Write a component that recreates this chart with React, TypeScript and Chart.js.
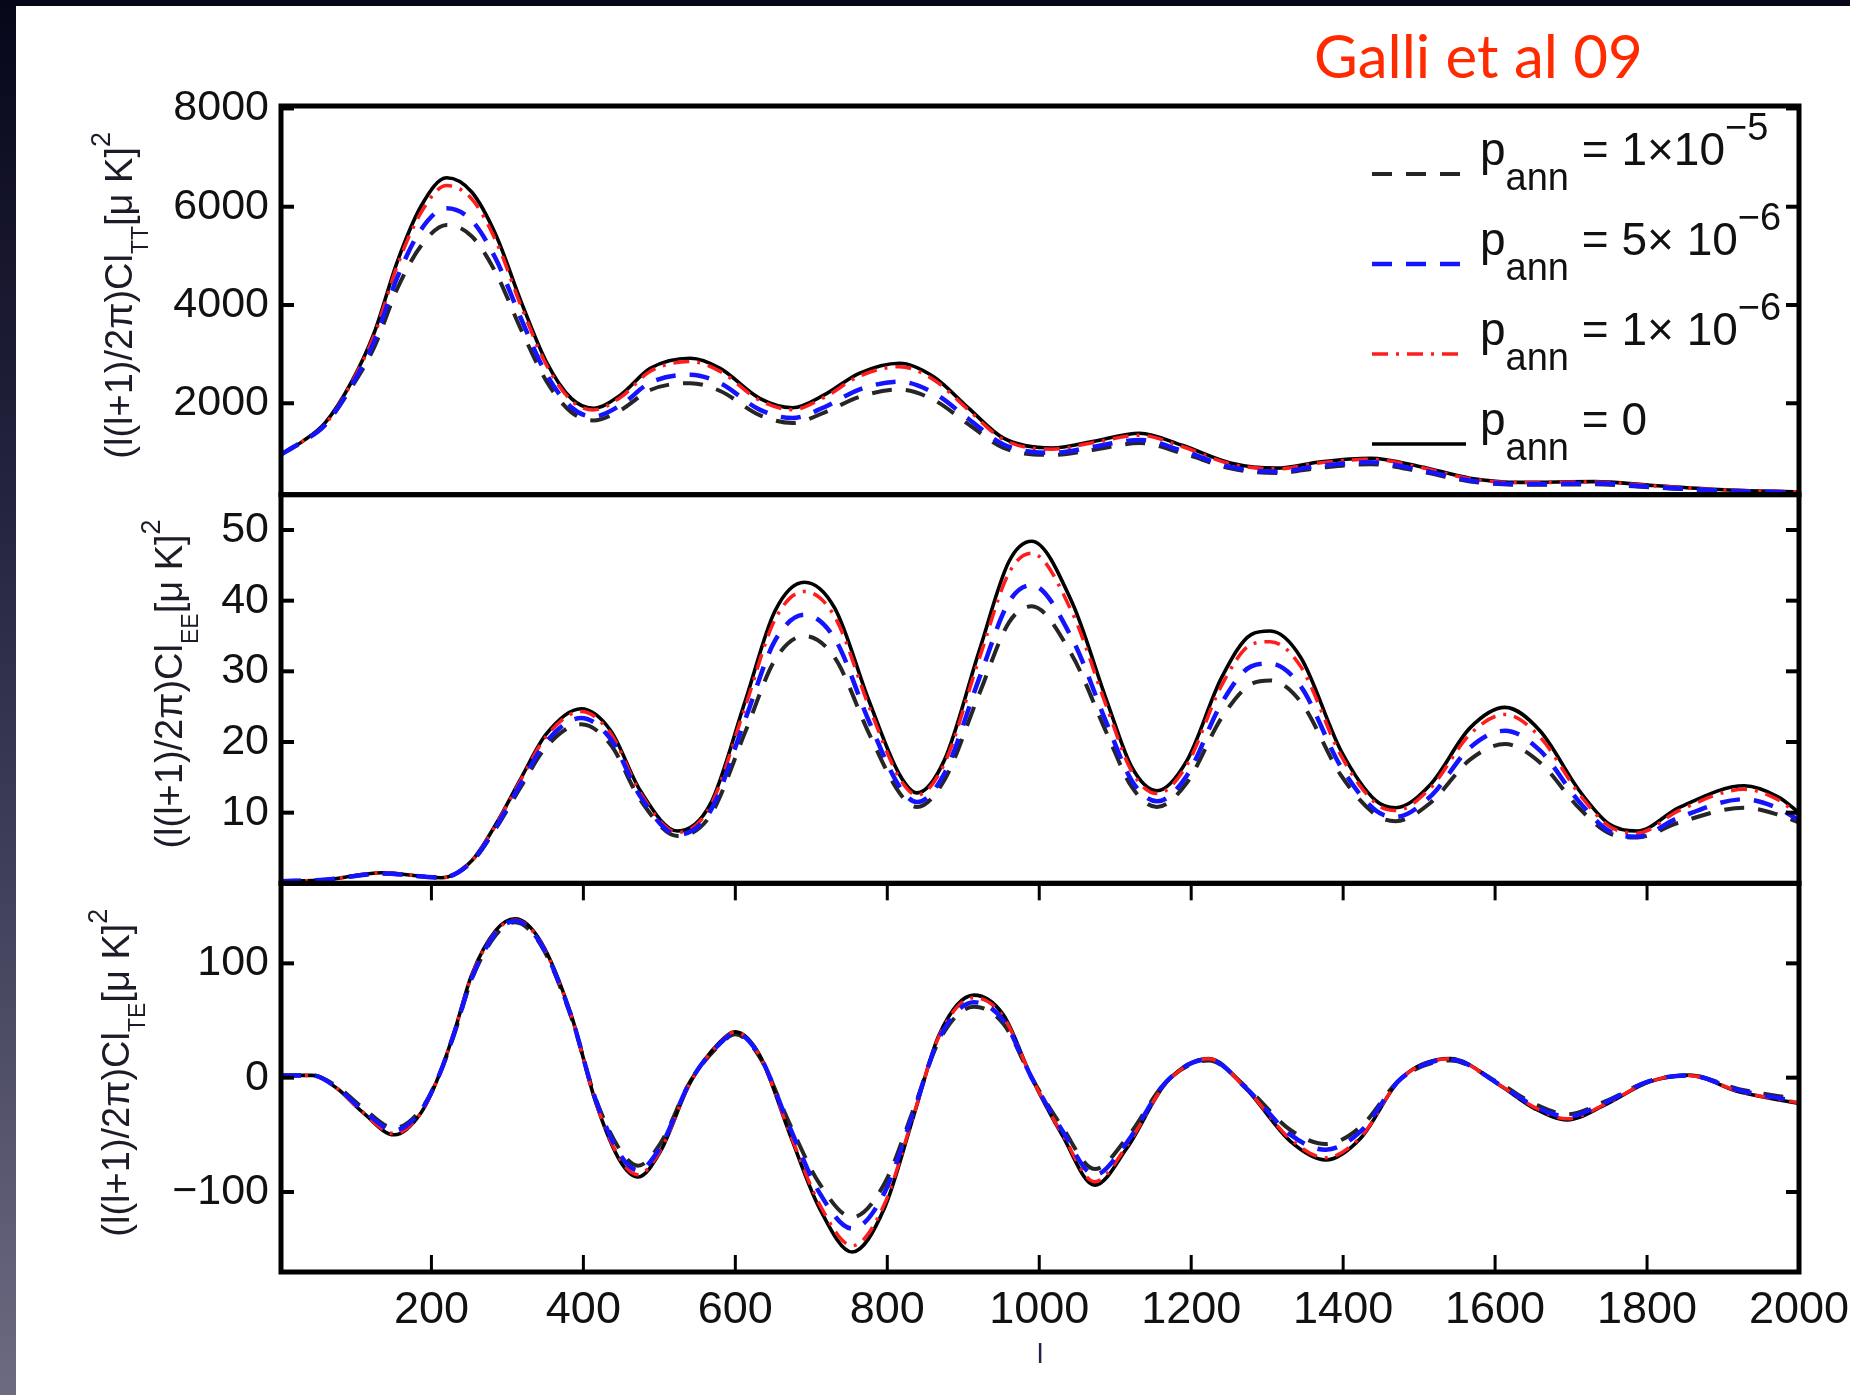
import React, { useEffect, useRef } from 'react';
import { Chart, registerables } from 'chart.js';

Chart.register(...registerables);

// ---------------- data ----------------
const X_MIN = 2;
const X_MAX = 2000;
const X_TICKS = [200, 400, 600, 800, 1000, 1200, 1400, 1600, 1800, 2000];

const TT_TICKS = [2000, 4000, 6000, 8000];
const EE_TICKS = [10, 20, 30, 40, 50];
const TE_TICKS = [-100, 0, 100];

const TT_RANGE = [140, 8050];
const EE_RANGE = [0, 55];
const TE_RANGE = [-170, 170];

const SERIES_LABELS = ['p_ann = 1×10^-5', 'p_ann = 5×10^-6', 'p_ann = 1×10^-6', 'p_ann = 0'];
const LEGEND_VALUES = ['1×10', '5× 10', '1× 10', '0'];
const LEGEND_EXPONENTS = ['\u22125', '\u22126', '\u22126', ''];

// TT spectrum
const TT_L = [2, 30, 60, 95, 125, 155, 187, 220, 253, 285, 318, 351, 384, 413, 449, 488, 541, 580, 632, 675, 717, 763, 816, 861, 907, 953, 1017, 1070, 1132, 1187, 1253, 1312, 1371, 1436, 1502, 1567, 1633, 1731, 1809, 1908, 2000];
const TT_PANN_1E5 = [960, 1220, 1560, 2330, 3150, 4330, 5220, 5630, 5400, 4650, 3500, 2460, 1820, 1650, 1860, 2270, 2410, 2250, 1760, 1600, 1810, 2130, 2280, 2070, 1570, 1090, 950, 1050, 1190, 990, 670, 580, 690, 760, 610, 410, 340, 350, 285, 210, 180];
const TT_PANN_5E6 = [960, 1220, 1560, 2370, 3270, 4560, 5550, 5970, 5720, 4930, 3720, 2600, 1920, 1730, 1960, 2420, 2580, 2410, 1870, 1700, 1920, 2280, 2440, 2210, 1680, 1160, 990, 1110, 1255, 1040, 700, 610, 730, 800, 640, 430, 355, 370, 295, 215, 185];
const TT_PANN_1E6 = [960, 1220, 1570, 2420, 3400, 4800, 5900, 6430, 6160, 5300, 3980, 2790, 2060, 1865, 2120, 2650, 2850, 2650, 2060, 1870, 2120, 2550, 2745, 2480, 1860, 1260, 1065, 1195, 1350, 1125, 760, 665, 790, 860, 695, 465, 385, 398, 320, 232, 198];
const TT_PANN_0 = [960, 1220, 1600, 2440, 3450, 4880, 6030, 6590, 6300, 5420, 4070, 2850, 2100, 1900, 2170, 2710, 2915, 2710, 2100, 1910, 2170, 2610, 2815, 2540, 1900, 1290, 1090, 1220, 1390, 1150, 780, 680, 810, 880, 710, 475, 390, 405, 325, 235, 200];

// EE spectrum
const EE_L = [2, 60, 135, 213, 253, 285, 318, 351, 397, 436, 475, 524, 567, 613, 652, 691, 731, 776, 816, 839, 875, 921, 960, 990, 1043, 1089, 1122, 1155, 1194, 1240, 1279, 1304, 1344, 1397, 1443, 1469, 1515, 1567, 1613, 1659, 1711, 1750, 1787, 1842, 1928, 1973, 2000];
const EE_PANN_1E5 = [0.3, 0.5, 1.4, 0.8, 3.0, 7.8, 13.7, 19.3, 22.5, 19.6, 11.8, 6.7, 9.6, 21.4, 31.6, 35.0, 31.9, 21.2, 12.8, 10.8, 14.6, 26.8, 36.9, 39.2, 32.3, 21.2, 13.6, 10.8, 14.2, 23.4, 28.2, 28.7, 25.7, 15.3, 9.7, 8.8, 11.4, 17.5, 19.7, 17.1, 10.6, 7.1, 6.5, 8.6, 10.7, 9.7, 8.6];
const EE_PANN_5E6 = [0.3, 0.5, 1.4, 0.8, 3.1, 8.0, 14.2, 20.0, 23.4, 20.4, 12.3, 6.9, 10.2, 23.2, 34.3, 38.0, 34.6, 22.9, 13.7, 11.5, 15.5, 29.0, 39.8, 42.2, 34.7, 22.6, 14.5, 11.6, 15.2, 25.5, 30.7, 31.1, 27.9, 16.5, 10.3, 9.4, 12.3, 19.2, 21.6, 18.8, 11.5, 7.4, 6.6, 9.3, 11.9, 10.6, 8.9];
const EE_PANN_1E6 = [0.3, 0.5, 1.5, 0.8, 3.2, 8.3, 14.7, 20.8, 24.3, 21.2, 12.8, 7.2, 10.9, 25.0, 37.3, 41.3, 37.7, 25.0, 14.9, 12.5, 16.9, 31.8, 43.9, 46.7, 38.4, 24.9, 15.8, 12.7, 16.7, 28.0, 33.8, 34.2, 30.7, 18.1, 11.3, 10.3, 13.5, 21.1, 23.9, 20.7, 12.6, 8.1, 7.1, 10.3, 13.3, 11.8, 9.6];
const EE_PANN_0 = [0.3, 0.5, 1.5, 0.8, 3.2, 8.4, 14.9, 21.1, 24.7, 21.6, 13.1, 7.4, 11.2, 25.8, 38.5, 42.6, 38.9, 25.8, 15.4, 12.8, 17.4, 32.9, 45.5, 48.4, 39.8, 25.8, 16.4, 13.1, 17.3, 29.1, 35.2, 35.7, 32.0, 18.8, 11.7, 10.7, 14.0, 22.0, 24.9, 21.6, 13.1, 8.4, 7.4, 10.7, 13.8, 12.2, 10.0];

// TE spectrum
const TE_L = [2, 43, 76, 109, 151, 187, 210, 230, 253, 285, 310, 344, 384, 416, 449, 472, 501, 541, 580, 600, 632, 672, 711, 754, 796, 835, 868, 914, 953, 990, 1030, 1073, 1115, 1168, 1223, 1272, 1331, 1377, 1423, 1476, 1541, 1606, 1652, 1695, 1744, 1803, 1855, 1921, 2000];
const TE_PANN_1E5 = [2, 2, -8, -26, -44, -27, 2, 38, 86, 125, 136, 116, 53, -18, -64, -77, -58, -3, 29, 38, 18, -41, -93, -122, -93, -27, 32, 62, 47, 0, -43, -80, -53, -3, 15, -8, -46, -58, -43, -1, 15, -5, -23, -32, -21, -3, 2, -10, -19];
const TE_PANN_5E6 = [2, 2, -9, -28, -46, -28, 2, 39, 87, 127, 137, 117, 54, -19, -68, -81, -61, -3, 30, 39, 19, -44, -101, -132, -101, -29, 34, 66, 50, 0, -46, -85, -57, -3, 16, -9, -50, -63, -47, -1, 16, -6, -25, -34, -22, -3, 2, -11, -21];
const TE_PANN_1E6 = [2, 2, -9.5, -30, -49, -30, 2, 40, 89, 128, 138, 118, 54, -21, -72, -85, -64, -4, 31, 40, 19, -49, -111, -147, -111, -32, 36, 70, 53, 0, -49, -91, -60, -4, 16.5, -9.5, -54, -70, -52, -1, 16.5, -6.5, -26, -36, -23.5, -3.5, 2, -12, -22];
const TE_PANN_0 = [2, 2, -9.5, -30, -50, -30, 2, 40, 90, 129, 139, 119, 54.7, -21, -73.7, -86.9, -65, -3.7, 31.3, 40.1, 19.7, -50, -114.5, -152.5, -114.5, -32.8, 37.2, 72.2, 54.7, 0, -50, -94, -62, -3.7, 16.8, -9.5, -56, -72, -53, -0.7, 16.8, -6.6, -27, -37, -24, -3.7, 2.2, -12.4, -22.6];

// ---------------- styles ----------------
const FONT = "'Liberation Sans', Arial, Helvetica, sans-serif";
const STYLES = [
  { color: '#262626', dash: [20, 14], width: 4, order: 3 },
  { color: '#1414ff', dash: [20, 14], width: 4.5, order: 0 },
  { color: '#ff1c1c', dash: [16, 8, 3, 8], width: 3.5, order: 1 },
  { color: '#000000', dash: [] as number[], width: 3.6, order: 2 },
];

const PANELS = [
  { id: 'yTT', name: 'TT', l: TT_L, series: [TT_PANN_1E5, TT_PANN_5E6, TT_PANN_1E6, TT_PANN_0], range: TT_RANGE, ticks: TT_TICKS, sub: 'TT', titleBaseX: 132 },
  { id: 'yEE', name: 'EE', l: EE_L, series: [EE_PANN_1E5, EE_PANN_5E6, EE_PANN_1E6, EE_PANN_0], range: EE_RANGE, ticks: EE_TICKS, sub: 'EE', titleBaseX: 182 },
  { id: 'yTE', name: 'TE', l: TE_L, series: [TE_PANN_1E5, TE_PANN_5E6, TE_PANN_1E6, TE_PANN_0], range: TE_RANGE, ticks: TE_TICKS, sub: 'TE', titleBaseX: 129 },
];

const fmtTick = (v: any) => (Number(v) < 0 ? '\u2212' + Math.abs(Number(v)) : String(v));

type Part = { text: string; size: number; dy?: number };

function richWidth(ctx: CanvasRenderingContext2D, parts: Part[]) {
  let w = 0;
  for (const p of parts) {
    ctx.font = `${p.size}px ${FONT}`;
    w += ctx.measureText(p.text).width;
  }
  return w;
}

function drawRich(ctx: CanvasRenderingContext2D, parts: Part[], x: number, y: number) {
  let cx = x;
  for (const p of parts) {
    ctx.font = `${p.size}px ${FONT}`;
    ctx.fillText(p.text, cx, y + (p.dy || 0));
    cx += ctx.measureText(p.text).width;
  }
}

const decorPlugin = {
  id: 'decor',
  afterDatasetsDraw(chart: any) {
    const { ctx, chartArea } = chart;
    const { left, right } = chartArea;
    const xs = chart.scales.x;
    ctx.save();
    ctx.strokeStyle = '#000';
    ctx.setLineDash([]);
    ctx.lineCap = 'butt';
    const seg = (x1: number, y1: number, x2: number, y2: number) => {
      ctx.beginPath();
      ctx.moveTo(x1, y1);
      ctx.lineTo(x2, y2);
      ctx.stroke();
    };
    ctx.lineWidth = 4;
    for (const p of PANELS) {
      const s = chart.scales[p.id];
      for (const t of s.ticks) {
        const py = s.getPixelForValue(t.value);
        seg(left, py, left + 13, py);
        seg(right - 13, py, right, py);
      }
    }
    const te = chart.scales.yTE;
    ctx.lineWidth = 3;
    for (const t of xs.ticks) {
      const px = xs.getPixelForValue(t.value);
      seg(px, te.top, px, te.top + 17);
      seg(px, te.bottom - 17, px, te.bottom);
    }
    ctx.lineWidth = 5;
    for (const p of PANELS) {
      const s = chart.scales[p.id];
      ctx.strokeRect(left, s.top, right - left, s.bottom - s.top);
    }
    ctx.restore();
  },
  afterDraw(chart: any) {
    const { ctx, chartArea } = chart;
    ctx.save();
    ctx.textBaseline = 'alphabetic';
    ctx.textAlign = 'left';

    // y-axis titles (rotated, with sub/superscripts)
    ctx.fillStyle = '#1c1c28';
    for (const p of PANELS) {
      const s = chart.scales[p.id];
      const parts: Part[] = [
        { text: '(l(l+1)/2\u03c0)Cl', size: 38 },
        { text: p.sub, size: 23, dy: 16 },
        { text: '[\u03bc K]', size: 38 },
        { text: '2', size: 27, dy: -22 },
      ];
      const w = richWidth(ctx, parts);
      const cy = (s.top + s.bottom) / 2 - 5;
      ctx.save();
      ctx.translate(p.titleBaseX, cy + w / 2);
      ctx.rotate(-Math.PI / 2);
      drawRich(ctx, parts, 0, 0);
      ctx.restore();
    }

    // legend
    const lx0 = chartArea.right - 427;
    const lx1 = chartArea.right - 333;
    const tx = chartArea.right - 319;
    const top = chart.scales.yTT.top;
    const baselines = [59, 149, 239, 329].map((d) => top + d);
    for (let i = 0; i < 4; i++) {
      const st = STYLES[i];
      const by = baselines[i];
      ctx.save();
      ctx.strokeStyle = st.color;
      ctx.lineWidth = st.width;
      ctx.setLineDash(st.dash);
      ctx.beginPath();
      ctx.moveTo(lx0, by + 9);
      ctx.lineTo(lx1, by + 9);
      ctx.stroke();
      ctx.restore();
      ctx.fillStyle = '#111';
      drawRich(
        ctx,
        [
          { text: 'p', size: 46 },
          { text: 'ann', size: 38, dy: 25 },
          { text: ' = ' + LEGEND_VALUES[i], size: 46 },
          { text: LEGEND_EXPONENTS[i], size: 38, dy: -25 },
        ],
        tx,
        by
      );
    }

    // annotation
    ctx.fillStyle = '#ff2a00';
    ctx.font = "60px Lato, 'Open Sans', sans-serif";
    ctx.fillText('Galli et al 09', 1314, 78);
    ctx.restore();
  },
};

function yScale(p: any) {
  return {
    type: 'linear',
    position: 'left',
    stack: 'panels',
    stackWeight: 1,
    min: p.range[0],
    max: p.range[1],
    grid: { display: false, drawTicks: false },
    border: { display: false },
    ticks: { font: { family: FONT, size: 43 }, color: '#111', padding: 12, autoSkip: false, callback: fmtTick },
    afterBuildTicks: (s: any) => {
      s.ticks = p.ticks.map((v: number) => ({ value: v }));
    },
    afterFit: (s: any) => {
      s.width = 200;
      s.paddingTop = 0;
      s.paddingBottom = 0;
    },
  };
}

export default function App() {
  const ref = useRef<HTMLCanvasElement>(null);
  useEffect(() => {
    const datasets = PANELS.flatMap((p) =>
      p.series.map((vals, si) => ({
        label: `${SERIES_LABELS[si]} (${p.name})`,
        data: p.l.map((l, i) => ({ x: l, y: vals[i] })),
        xAxisID: 'x',
        yAxisID: p.id,
        borderColor: STYLES[si].color,
        borderWidth: STYLES[si].width,
        borderDash: STYLES[si].dash,
        pointRadius: 0,
        fill: false,
        cubicInterpolationMode: 'monotone',
        order: STYLES[si].order,
      }))
    );
    const chart = new Chart(ref.current as HTMLCanvasElement, {
      type: 'line',
      data: { datasets } as any,
      options: {
        responsive: false,
        animation: false,
        devicePixelRatio: 1,
        layout: { padding: { left: 81, right: 51, top: 106, bottom: 13 } },
        plugins: { legend: { display: false }, tooltip: { enabled: false }, title: { display: false } },
        scales: {
          x: {
            type: 'linear',
            position: 'bottom',
            min: X_MIN,
            max: X_MAX,
            grid: { display: false, drawTicks: false },
            border: { display: false },
            ticks: {
              font: { family: FONT, size: 45 },
              color: '#111',
              padding: 12,
              autoSkip: false,
              maxRotation: 0,
              minRotation: 0,
              callback: (v: any) => String(v),
            },
            afterBuildTicks: (s: any) => {
              s.ticks = X_TICKS.map((v) => ({ value: v }));
            },
            afterFit: (s: any) => {
              s.height = 110;
              s.paddingLeft = 0;
              s.paddingRight = 0;
            },
            title: { display: true, text: 'l', font: { family: FONT, size: 28 }, color: '#22224a', padding: { top: 0, bottom: 10 } },
          },
          yTE: yScale(PANELS[2]),
          yEE: yScale(PANELS[1]),
          yTT: yScale(PANELS[0]),
        } as any,
      } as any,
      plugins: [decorPlugin],
    });
    return () => chart.destroy();
  }, []);

  return (
    <div
      style={{
        position: 'absolute',
        left: 0,
        top: 0,
        width: 1850,
        height: 1395,
        overflow: 'hidden',
        background: 'linear-gradient(180deg, #07071a 0%, #25243f 36%, #43425c 65%, #6d6b82 100%)',
      }}
    >
      <div style={{ position: 'absolute', left: 16, top: 6, right: 0, bottom: 0, background: '#ffffff' }} />
      <canvas ref={ref} width={1850} height={1395} style={{ position: 'absolute', left: 0, top: 0, width: 1850, height: 1395 }} />
    </div>
  );
}
